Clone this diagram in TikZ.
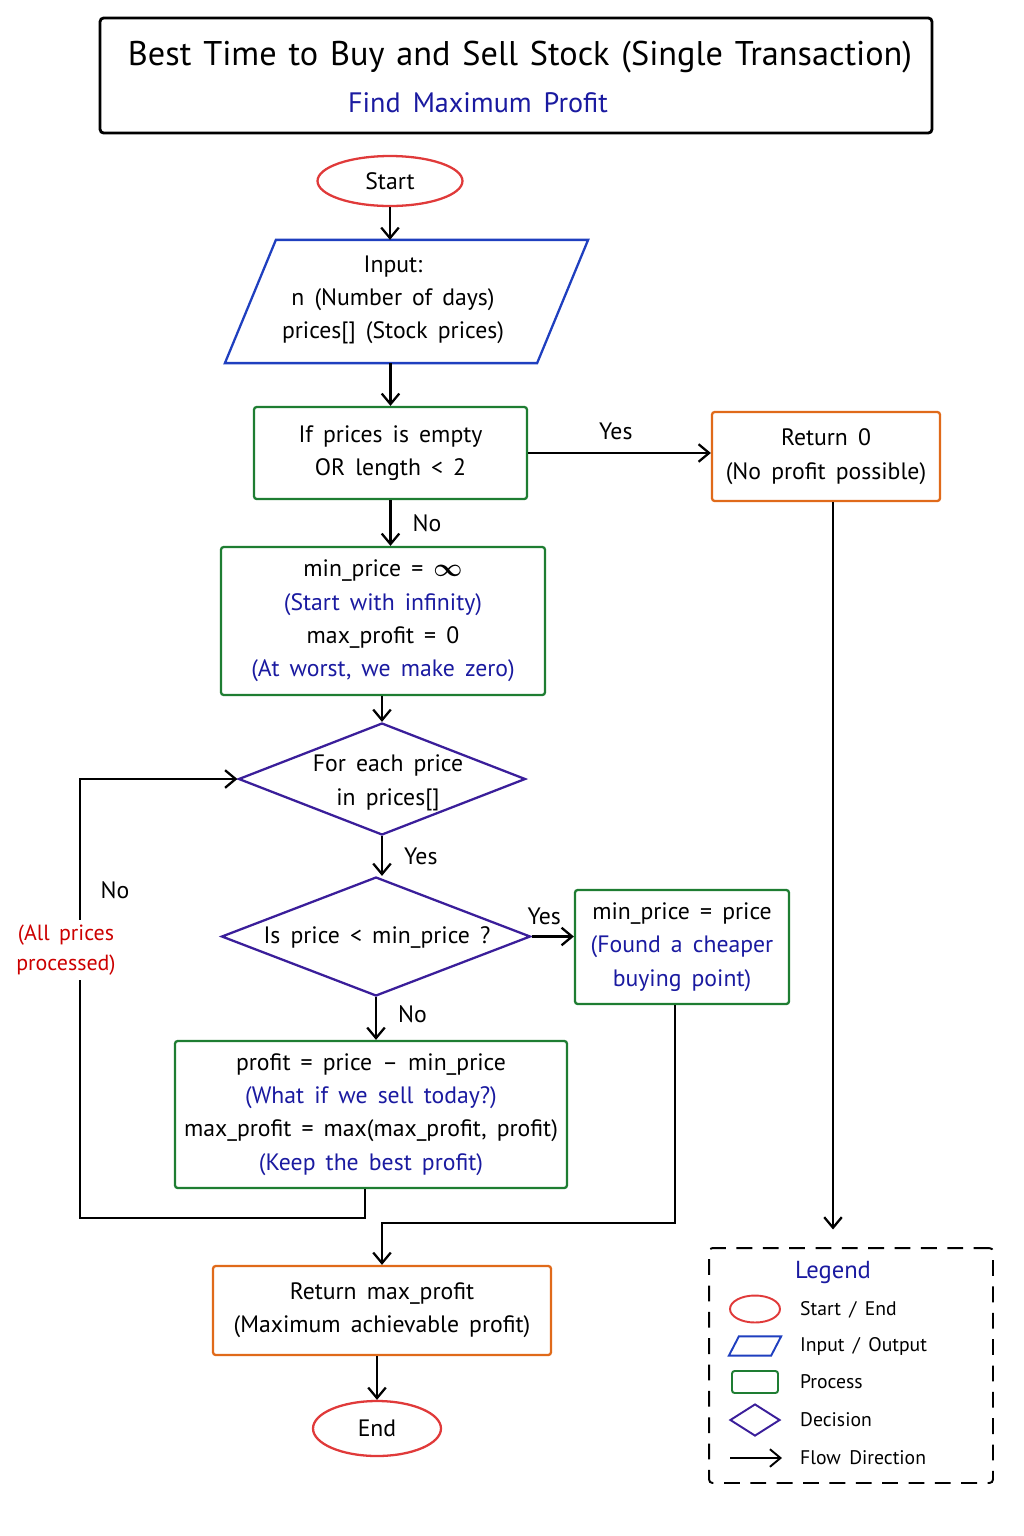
\documentclass[tikz,border=0pt]{standalone}
\usepackage{amsmath}
\usepackage{fontspec}
\setmainfont{PT Sans}[WordSpace=1.6]
\newfontfamily\titlefont{PT Sans}[WordSpace=1.3]
\usetikzlibrary{shapes.geometric,arrows.meta}
\definecolor{cred}{HTML}{E03A3A}
\definecolor{cblue}{HTML}{1F3FBF}
\definecolor{cgreen}{HTML}{1E7D32}
\definecolor{corange}{HTML}{E06A1A}
\definecolor{cpurple}{HTML}{3A1E9A}
\definecolor{tblue}{HTML}{1A1AA0}
\definecolor{tred}{HTML}{CC0000}
\begin{document}
\begin{tikzpicture}[x=0.02cm,y=-0.02cm, line width=1.3pt,
  every node/.style={font=\fontsize{13.5}{19}\selectfont, align=center, inner sep=0pt},
  term/.style={ellipse, draw=cred},
  proc/.style={rectangle, draw=cgreen, rounded corners=1.5pt},
  outb/.style={rectangle, draw=corange, rounded corners=1.5pt},
  dec/.style={diamond, draw=cpurple},
  arr/.style={-{Straight Barb[length=6pt,width=10pt]}, line width=1.3pt},
  lbl/.style={font=\fontsize{13.5}{16}\selectfont},
  legtxt/.style={font=\fontsize{11.2}{14}\selectfont, anchor=west}
]
\useasboundingbox (0,0) rectangle (1024,1536);

% title
\node[draw, line width=1.6pt, rounded corners=2pt, minimum width=16.64cm, minimum height=2.3cm] (title) at (516,75.5) {};
\node[font=\titlefont\fontsize{19.5}{24}\selectfont] (ttext) at (520,57) {Best Time to Buy and Sell Stock (Single Transaction)};
\node[font=\fontsize{16}{20}\selectfont, text=tblue] (tsub) at (478,103) {Find Maximum Profit};

% nodes
\node[term, minimum width=2.9cm, minimum height=1.0cm] (start) at (390,181) {Start};
\node[rectangle, minimum width=6.2cm, minimum height=2.42cm] (inp) at (406.5,301.5) {};
\draw[cblue] ([xshift=0.51cm]inp.north west) -- ([xshift=0.51cm]inp.north east) -- ([xshift=-0.51cm]inp.south east) -- ([xshift=-0.51cm]inp.south west) -- cycle;
\node (inptxt) at (393,300) {Input:\\n (Number of days)\\prices[] (Stock prices)};
\node[proc, minimum width=5.46cm, minimum height=1.84cm] (chk) at (390.5,453) {If prices is empty\\OR length < 2};
\node[outb, minimum width=4.56cm, minimum height=1.78cm] (ret0) at (826,456.5) {Return 0\\(No profit possible)};
\node[proc, minimum width=6.48cm, minimum height=2.96cm] (init) at (383,621) {min\_price = $\boldsymbol{\infty}$\\{\color{tblue}(Start with infinity)}\\max\_profit = 0\\{\color{tblue}(At worst, we make zero)}};
\node[dec, minimum width=5.74cm, minimum height=2.24cm] (d1) at (382,779) {};
\node (d1txt) at (388,783) {For each price\\in prices[]};
\node[dec, minimum width=6.18cm, minimum height=2.38cm] (d2) at (376,936.5) {};
\node (d2txt) at (377,937) {Is price < min\_price ?};
\node[proc, minimum width=4.28cm, minimum height=2.28cm] (upd) at (682,947) {min\_price = price\\{\color{tblue}(Found a cheaper}\\{\color{tblue}buying point)}};
\node[proc, minimum width=7.84cm, minimum height=2.94cm] (prof) at (371,1114.5) {profit = price -- min\_price\\{\color{tblue}(What if we sell today?)}\\max\_profit = max(max\_profit, profit)\\{\color{tblue}(Keep the best profit)}};
\node[outb, minimum width=6.76cm, minimum height=1.78cm] (retm) at (382,1310.5) {Return max\_profit\\(Maximum achievable profit)};
\node[term, minimum width=2.56cm, minimum height=1.1cm] (end) at (377,1428.5) {End};

% legend
\node[draw, dashed, dash pattern=on 9pt off 6pt, rounded corners=2pt, line width=1.1pt, minimum width=5.68cm, minimum height=4.7cm] (leg) at (851,1365.5) {};
\node[font=\fontsize{14}{16}\selectfont, text=tblue] (legt) at (833,1272) {Legend};
\node[term, line width=1.1pt, minimum width=1.0cm, minimum height=0.54cm] (lg1) at (755,1309) {};
\node[legtxt] (lg1t) at (799,1310) {Start / End};
\node[rectangle, minimum width=0.8cm, minimum height=0.34cm] (lg2) at (755,1346) {};
\draw[cblue, line width=1.1pt] ([xshift=0.1cm]lg2.north west) -- ([xshift=0.1cm]lg2.north east) -- ([xshift=-0.1cm]lg2.south east) -- ([xshift=-0.1cm]lg2.south west) -- cycle;
\node[legtxt] (lg2t) at (799,1346) {Input / Output};
\node[proc, line width=1.1pt, minimum width=0.92cm, minimum height=0.44cm] (lg3) at (755,1382) {};
\node[legtxt] (lg3t) at (799,1382) {Process};
\node[dec, line width=1.1pt, minimum width=1.0cm, minimum height=0.64cm] (lg4) at (755,1420) {};
\node[legtxt] (lg4t) at (799,1420) {Decision};
\coordinate (lgA) at (730,1458);
\coordinate (lgB) at (782,1458);
\draw[arr, line width=1.1pt] (lgA) -- (lgB);
\node[legtxt] (lg5t) at (799,1458) {Flow Direction};

% connectors
\draw[arr] (start.south) -- (start.south |- inp.north);
\draw[arr] (chk.north |- inp.south) -- (chk.north);
\draw[arr] (chk.east) -- (chk.east -| ret0.west) node[lbl, pos=0.48, above=7pt] (yes1) {Yes};
\draw[arr, shorten >=10pt] ([xshift=0.14cm]ret0.south) -- ([xshift=0.14cm]ret0.south |- leg.north);
\draw[arr] (chk.south) -- (chk.south |- init.north) node[lbl, pos=0.5, right=12pt] (no1) {No};
\draw[arr] (d1.north |- init.south) -- (d1.north);
\draw[arr] (d1.south) -- (d1.south |- d2.north) node[lbl, pos=0.5, right=12pt] (yes2) {Yes};
\draw[arr] (d2.east) -- (d2.east -| upd.west) node[lbl, pos=0.3, above=6pt] (yes3) {Yes};
\draw[arr] (d2.south) -- (d2.south |- prof.north) node[lbl, pos=0.4, right=12pt] (no2) {No};

\coordinate (lpA) at (80,1218);
\draw[arr] ([xshift=-0.12cm]prof.south) -- ([xshift=-0.12cm]prof.south |- lpA) -- (lpA) -- (lpA |- d1.west) -- (d1.west);
\node[lbl] (noLoop) at (115,890) {No};
\node[lbl, text=tred, fill=white, inner sep=3pt, font=\fontsize{12.5}{17}\selectfont] (allp) at (66,950) {(All prices\\processed)};

\coordinate (mrg) at (382,1223);
\draw[arr] ([xshift=-0.14cm]upd.south) -- ([xshift=-0.14cm]upd.south |- mrg) -- (mrg) -- (retm.north);
\draw[arr] (end.north |- retm.south) -- (end.north);
\end{tikzpicture}
\end{document}
